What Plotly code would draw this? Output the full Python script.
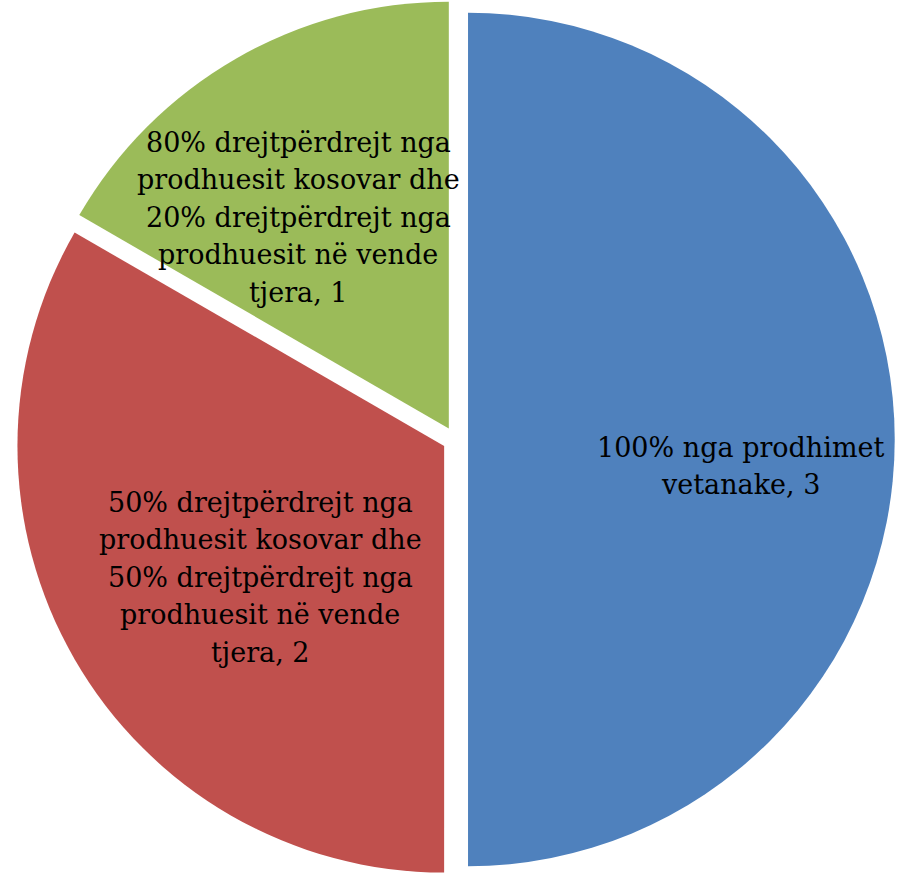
import textwrap
import plotly.graph_objects as go

# Slices in drawing order (clockwise from 12 o'clock)
labels = [
    "100% nga prodhimet vetanake",
    "50% drejtpërdrejt nga prodhuesit kosovar dhe 50% drejtpërdrejt nga prodhuesit në vende tjera",
    "80% drejtpërdrejt nga prodhuesit kosovar dhe 20% drejtpërdrejt nga prodhuesit në vende tjera",
]
values = [3, 2, 1]
colors = ["#4F81BD", "#C0504D", "#9BBB59"]

# Label block centres (pixels) and line pitch
W, H = 897, 879
label_cx = [740, 260, 298]
label_cy = [466, 577, 217]
LINE_PITCH = 37.5

fig = go.Figure(
    go.Pie(
        labels=labels,
        values=values,
        sort=False,
        direction="clockwise",
        rotation=0,
        pull=[0.03, 0.03, 0.03],
        marker=dict(colors=colors, line=dict(width=0)),
        textinfo="none",
        hoverinfo="label+value",
        domain=dict(x=[0.015, 1.0], y=[0.0, 1.0]),
    )
)

for lab, val, cx, cy in zip(labels, values, label_cx, label_cy):
    lines = textwrap.wrap(f"{lab}, {val}", width=22)
    n = len(lines)
    for i, line in enumerate(lines):
        py = cy + (i - (n - 1) / 2) * LINE_PITCH
        fig.add_annotation(
            x=cx / W, y=1 - py / H, xref="paper", yref="paper",
            text=line, showarrow=False,
            xanchor="center", yanchor="middle", align="center",
            font=dict(family="DejaVu Serif", size=27, color="black"),
        )

fig.update_layout(
    width=W,
    height=H,
    margin=dict(l=0, r=0, t=0, b=0),
    showlegend=False,
    paper_bgcolor="white",
    plot_bgcolor="white",
)

fig.write_html("out.html")
